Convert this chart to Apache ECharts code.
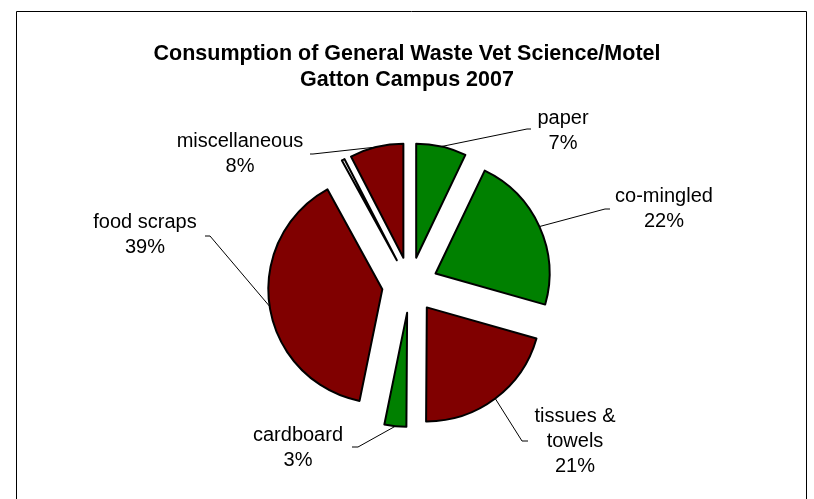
<!DOCTYPE html>
<html><head><meta charset="utf-8">
<script src="https://cdn.jsdelivr.net/npm/echarts@6/dist/echarts.min.js"></script>
<style>html,body{margin:0;padding:0;background:#fff}#c{width:814px;height:499px}</style>
</head><body><div id="c"></div>
<script>
// ---- data ----
const categories = ['paper', 'co-mingled', 'tissues & towels', 'cardboard', 'food scraps', '', 'miscellaneous'];
const values = [7.1, 22.3, 20.7, 3.1, 38.8, 0.4, 7.6];
const sliceColors = ['#008000', '#008000', '#800000', '#008000', '#800000', '#ffffff', '#800000'];
const titleLines = ['Consumption of General Waste Vet Science/Motel', 'Gatton Campus 2007'];

// ---- layout (not data) ----
const PIE_CENTER = [410, 285];
const PIE_RADIUS = 114;
const EXPLODE = 28;
const labelAnchors = [
  { x: 563, y: 131, elbow: [527, 129], end: [531, 129] },
  { x: 664, y: 209, elbow: [605, 209], end: [610, 209] },
  { x: 575, y: 441, elbow: [522, 441], end: [528, 441] },
  { x: 298, y: 448, elbow: [358, 447], end: [352, 447] },
  { x: 145, y: 235, elbow: [210, 236], end: [205, 236] },
  null,
  { x: 240, y: 154, elbow: [313, 154], end: [310, 154] }
];

const FONT = '"Liberation Sans", Arial, sans-serif';
const chart = echarts.init(document.getElementById('c'), null, { renderer: 'canvas' });

const total = values.reduce((a, b) => a + b, 0);
let cum = 0;
const series = categories.map((name, i) => {
  const mid = (cum + values[i] / 2) / total * 2 * Math.PI; // clockwise from 12 o'clock
  cum += values[i];
  const center = [PIE_CENTER[0] + EXPLODE * Math.sin(mid), PIE_CENTER[1] - EXPLODE * Math.cos(mid)];
  const anchor = labelAnchors[i];
  return {
    type: 'pie',
    center: center,
    radius: [0, PIE_RADIUS],
    startAngle: 90,
    clockwise: true,
    avoidLabelOverlap: false,
    silent: true,
    emphasis: { disabled: true },
    label: { show: false },
    labelLine: { show: false },
    labelLayout: anchor ? function (params) {
      if (params.dataIndex !== i) return {};
      const start = params.labelLinePoints ? params.labelLinePoints[0] : anchor.elbow;
      return {
        x: anchor.x,
        y: anchor.y,
        align: 'center',
        verticalAlign: 'middle',
        labelLinePoints: [start, anchor.elbow, anchor.end]
      };
    } : null,
    data: categories.map((n, j) => {
      const visible = j === i;
      const item = {
        name: n,
        value: values[j],
        itemStyle: visible
          ? { color: sliceColors[j], borderColor: '#000', borderWidth: 2 }
          : { color: 'rgba(0,0,0,0)', borderWidth: 0 }
      };
      if (visible && anchor) {
        item.label = {
          show: true,
          position: 'outside',
          fontFamily: FONT,
          fontSize: 20,
          color: '#000',
          lineHeight: 25,
          align: 'center',
          formatter: p => p.name.replace('tissues & ', 'tissues &\n') + '\n' + Math.round(p.percent) + '%'
        };
        item.labelLine = { show: true, length: 20, length2: 10, lineStyle: { color: '#000', width: 1 } };
      }
      return item;
    })
  };
});

chart.setOption({
  animation: false,
  backgroundColor: '#ffffff',
  title: {
    text: titleLines.join('\n'),
    left: 402,
    top: 36,
    textAlign: 'center',
    textStyle: { fontFamily: FONT, fontSize: 21.5, fontWeight: 'bold', color: '#000', lineHeight: 26 }
  },
  graphic: [{
    type: 'rect',
    shape: { x: 16.5, y: 11.5, width: 790, height: 600 },
    style: { fill: 'none', stroke: '#000', lineWidth: 1 },
    silent: true
  }],
  series: series
});
</script>
</body></html>
